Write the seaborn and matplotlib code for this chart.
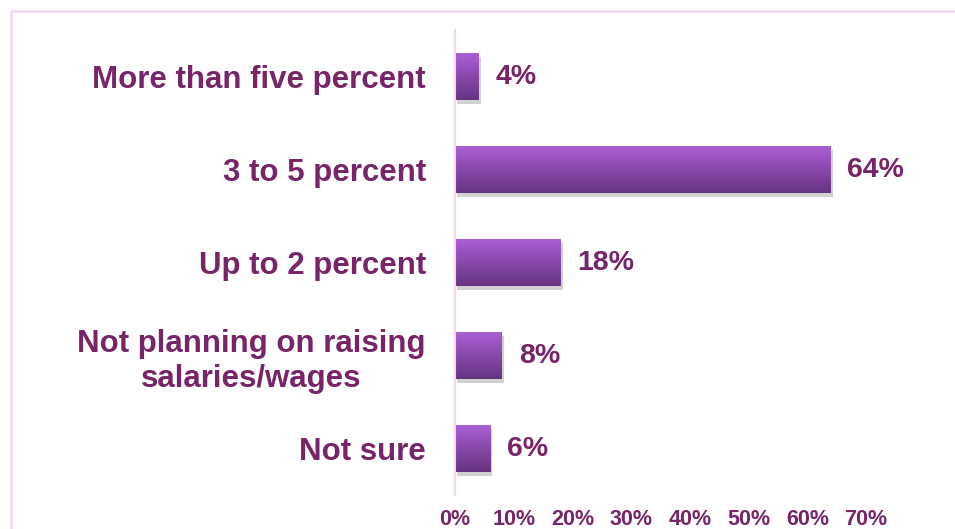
import matplotlib
matplotlib.use("Agg")
import matplotlib.pyplot as plt
import matplotlib.patheffects as pe
from matplotlib.lines import Line2D
import numpy as np
import pandas as pd
import seaborn as sns

categories = ["More than five percent", "3 to 5 percent", "Up to 2 percent",
              "Not planning on raising\nsalaries/wages", "Not sure"]
values = [4, 64, 18, 8, 6]
tick_values = [0, 10, 20, 30, 40, 50, 60, 70]
tick_labels = ["0%", "10%", "20%", "30%", "40%", "50%", "60%", "70%"]

TEXT = "#772468"
PINK = "#F2D6EE"
TOP = np.array([0xAA, 0x5F, 0xD6]) / 255
BOTTOM = np.array([0x66, 0x33, 0x80]) / 255

sns.set_theme(style="white")
plt.rcParams["font.family"] = ["Liberation Sans", "DejaVu Sans"]

df = pd.DataFrame({"category": categories, "value": values})

fig = plt.figure(figsize=(9.55, 5.29), dpi=100)
ax = fig.add_axes([455 / 955, 34 / 529, 411 / 955, 465 / 529])

sns.barplot(data=df, y="category", x="value", orient="h", width=0.5,
            color=TOP, ax=ax, saturation=1)

ax.set_xlim(0, 70)
ax.set_ylim(4.5, -0.5)

# vertical gradient fill and drop shadow for each bar
grad = np.linspace(0, 1, 256)[:, None]
cmap = matplotlib.colors.LinearSegmentedColormap.from_list("bar", [TOP, BOTTOM])
for patch in ax.patches:
    x0, y0 = patch.get_x(), patch.get_y()
    w, h = patch.get_width(), patch.get_height()
    patch.set_path_effects([pe.SimplePatchShadow(offset=(1.5, -3), shadow_rgbFace="#9a9a9a",
                                                 alpha=0.45), pe.Normal()])
    patch.set_edgecolor("none")
    im = ax.imshow(grad, extent=[x0, x0 + w, y0 + h, y0], aspect="auto",
                   cmap=cmap, zorder=patch.get_zorder() + 0.1, origin="upper")
    im.set_clip_path(patch)

for container in ax.containers:
    ax.bar_label(container, labels=[f"{v}%" for v in values], padding=12,
                 color=TEXT, fontsize=20.5, fontweight="bold")

ax.set_xticks(tick_values)
ax.set_xticklabels(tick_labels, color=TEXT, fontsize=15.5, fontweight="bold")
ax.tick_params(axis="x", length=0, pad=10)
ax.tick_params(axis="y", length=0, pad=21)
for lbl in ax.get_yticklabels():
    lbl.set_color(TEXT)
    lbl.set_fontsize(22.5)
    lbl.set_fontweight("bold")
    lbl.set_multialignment("center")
ax.set_xlabel("")
ax.set_ylabel("")

for side in ["top", "right", "bottom"]:
    ax.spines[side].set_visible(False)
ax.spines["left"].set_color(PINK)
ax.spines["left"].set_linewidth(1.5)

# outer pink frame
fig.add_artist(Line2D([11 / 955, 11 / 955], [0, 1 - 11 / 529], color=PINK, lw=1.8,
                      transform=fig.transFigure))
fig.add_artist(Line2D([11 / 955, 1], [1 - 11 / 529, 1 - 11 / 529], color=PINK, lw=1.8,
                      transform=fig.transFigure))

fig.savefig("out.png", dpi=100)
